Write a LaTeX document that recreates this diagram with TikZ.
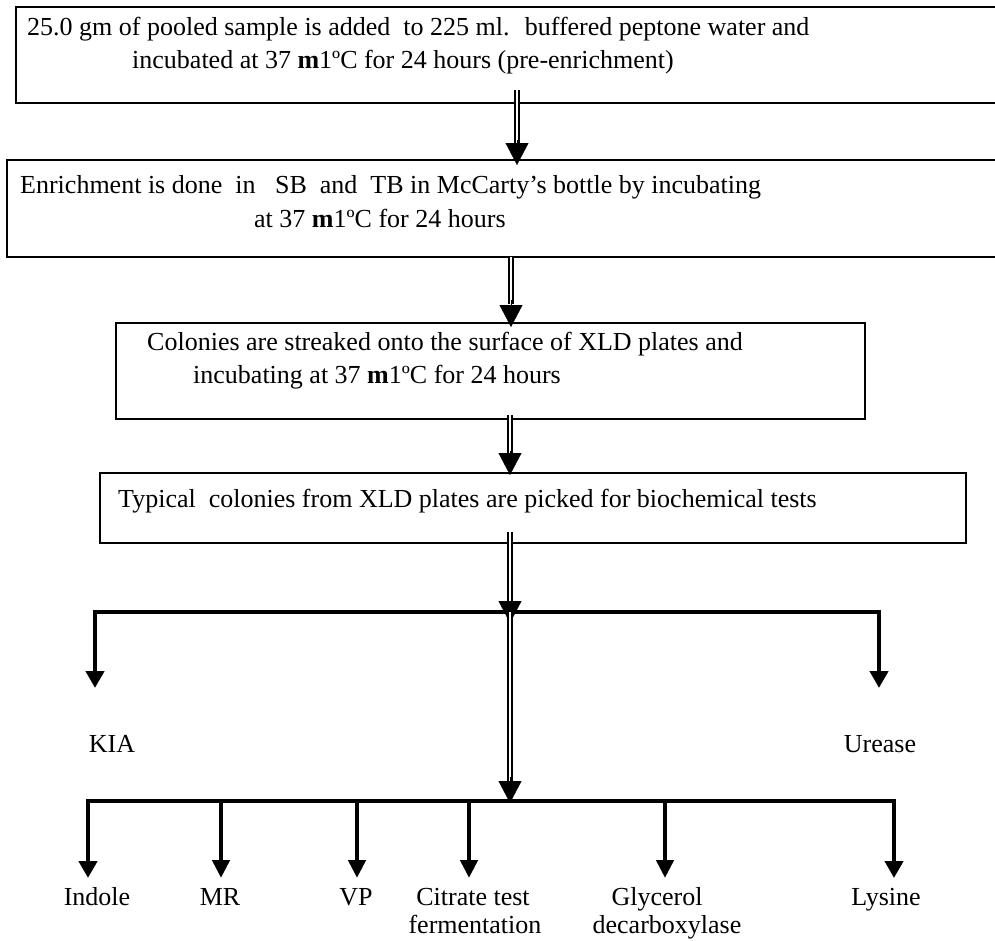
\documentclass[tikz,border=0pt]{standalone}
\usepackage{fontspec}
\setmainfont{Liberation Serif}
\usetikzlibrary{arrows.meta,calc}
\begin{document}
\begin{tikzpicture}[x=1pt,y=-1pt,
  box/.style={draw, line width=1.6pt, inner sep=0pt, outer sep=0pt, anchor=north west},
  txt/.style={inner sep=0pt, anchor=base west, font=\fontsize{26}{30}\selectfont},
  lbl/.style={inner sep=0pt, anchor=base, font=\fontsize{26}{30}\selectfont},
  dbl/.style={double, double distance=2.6pt, line width=1.4pt},
  dtip/.style={line width=0.4pt, -{Triangle[width=23pt,length=22pt]}},
  thk/.style={line width=4.8pt, line join=miter},
  ttip/.style={line width=4.6pt, -{Triangle[width=17pt,length=18pt]}},
  ctip/.style={thk, {Triangle[width=18pt,length=17pt]}-{Triangle[width=18pt,length=17pt]}}
]
\useasboundingbox (0,0) rectangle (995,940);
\fill[white] (0,0) rectangle (995,940);

% boxes
\node[box, minimum width=1000pt, minimum height=96pt] (b1) at (16,7) {};
\node[box, minimum width=1010pt, minimum height=97pt] (b2) at (7,160) {};
\node[box, minimum width=749pt, minimum height=96pt] (b3) at (116,323) {};
\node[box, minimum width=866pt, minimum height=70pt] (b4) at (100,473) {};

% texts
\node[txt] (t1a) at (27,35) {25.0 gm of pooled sample is added~ to 225 ml.~ buffered peptone water and};
\node[txt] (t1b) at (132,68) {incubated at 37 \textbf{m}1ºC for 24 hours (pre-enrichment)};
\node[txt] (t2a) at (20,193) {Enrichment is done~ in~~ SB~ and~ TB in McCarty’s bottle by incubating};
\node[txt] (t2b) at (254,227) {at 37 \textbf{m}1ºC for 24 hours};
\node[txt] (t3a) at (147,350) {Colonies are streaked onto the surface of XLD plates and};
\node[txt] (t3b) at (193,383) {incubating at 37 \textbf{m}1ºC for 24 hours};
\node[txt] (t4a) at (118,507) {Typical~ colonies from XLD plates are picked for biochemical tests};

% arrow x positions
\coordinate (x1) at (517,0);
\coordinate (x2) at (511,0);
\coordinate (x3) at (510,0);

% double arrows between boxes
\draw[dbl] ($(b1.south -| x1)+(0,-13)$) -- ($(b2.north -| x1)+(0,-16)$);
\draw[dtip] ($(b2.north -| x1)+(0,-20)$) -- ($(b2.north -| x1)+(0,5)$);

\draw[dbl] (b2.south -| x2) -- ($(b3.north -| x2)+(0,-19)$);
\draw[dtip] ($(b3.north -| x2)+(0,-23)$) -- ($(b3.north -| x2)+(0,4)$);

\draw[dbl] ($(b3.south -| x3)+(0,-4)$) -- ($(b4.north -| x3)+(0,-18)$);
\draw[dtip] ($(b4.north -| x3)+(0,-22)$) -- ($(b4.north -| x3)+(0,2)$);

% branching bars
\coordinate (bar1L) at (95,612);
\coordinate (bar1R) at (879,612);
\coordinate (kiaT) at (95,688);
\coordinate (ureT) at (879,688);
\coordinate (bar1M) at (510,612);

\coordinate (bar2L) at (88,801);
\coordinate (bar2R) at (894,801);
\coordinate (bar2M) at (510,801);

\draw[ctip] (kiaT) -- (bar1L) -- (bar1R) -- (ureT);

\draw[dbl] ($(b4.south -| x3)+(0,-11)$) -- ($(bar1M)+(0,-8)$);
\draw[dtip] ($(bar1M)+(0,-11)$) -- ($(bar1M)+(0,11)$);

\draw[dbl] (bar1M) -- ($(bar2M)+(0,-20)$);
\draw[dtip] ($(bar2M)+(0,-24)$) -- ($(bar2M)+(0,2)$);

\coordinate (indT) at (88,878);
\coordinate (lysT) at (894,878);
\draw[ctip] (indT) -- (bar2L) -- (bar2R) -- (lysT);
\coordinate (mrB) at (221,801);
\coordinate (vpB) at (357,801);
\coordinate (ciB) at (469,801);
\coordinate (glB) at (665,801);
\draw[ttip] (mrB) -- (221,878);
\draw[ttip] (vpB) -- (357,878);
\draw[ttip] (ciB) -- (469,878);
\draw[ttip] (glB) -- (665,878);

% labels
\node[lbl] (kia) at (112,752) {KIA};
\node[lbl] (ure) at (880,752) {Urease};
\node[lbl] (ind) at (97,905) {Indole};
\node[lbl] (mr) at (220,905) {MR};
\node[lbl] (vp) at (356,905) {VP};
\node[lbl] (cit1) at (473,905) {Citrate test};
\node[lbl] (cit2) at (475,933) {fermentation};
\node[lbl] (gly1) at (657,905) {Glycerol};
\node[lbl] (gly2) at (667,933) {decarboxylase};
\node[lbl] (lys) at (886,905) {Lysine};
\end{tikzpicture}
\end{document}
